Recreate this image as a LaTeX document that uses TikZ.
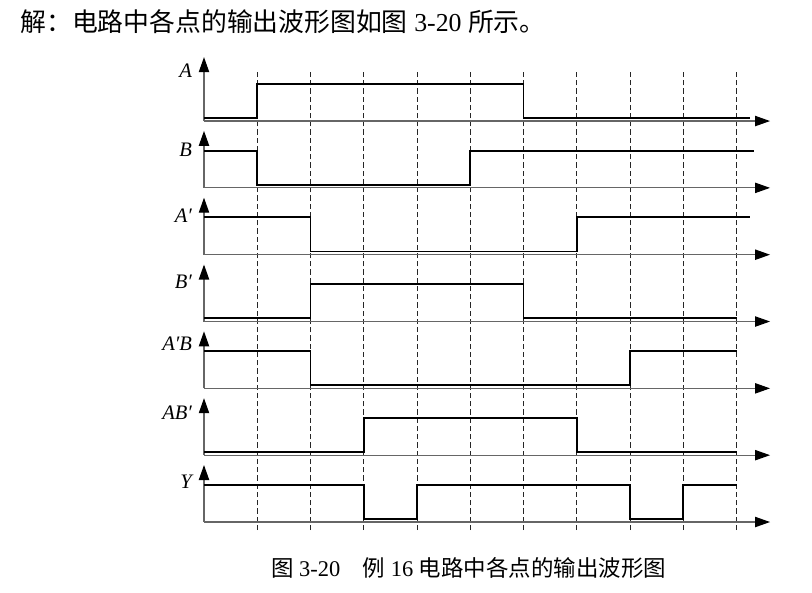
\documentclass[tikz,border=0pt]{standalone}
\usepackage{fontspec}
\setmainfont{Liberation Serif}
\newfontfamily\cjk{Noto Sans CJK SC}
\usetikzlibrary{arrows.meta}

\tikzset{
	axis/.style={draw=black!60, line width=0.6pt, -{Triangle[length=8pt,width=5.5pt,color=black]}},
	wave/.style={line width=1pt},
	grid line/.style={dash pattern=on 2.8pt off 1.6pt, line width=0.5pt, black!85},
	sig/.style={anchor=east, inner sep=0pt, font=\fontsize{11}{13}\selectfont\itshape},
}

\begin{document}
\begin{tikzpicture}
		\useasboundingbox (-3.831,-1.333) rectangle (11.418,9.803);
		
		\coordinate (rA) at (0,7.530);
		\coordinate (rB) at (0,6.275);
		\coordinate (rAn) at (0,5.020);
		\coordinate (rBn) at (0,3.765);
		\coordinate (rAnB) at (0,2.510);
		\coordinate (rABn) at (0,1.255);
		\coordinate (rY) at (0,0);
		
		\foreach \t in {1,...,10}
			\draw[grid line] (\t,-0.15) -- (\t,8.47);
		
		\foreach \r in {rA,rB,rAn,rBn,rAnB,rABn,rY}
			\draw[axis] (\r) -- ++(10.63,0);
		\draw[axis] (rA) -- ++(0,1.20);
		\foreach \r in {rB,rAn,rBn,rAnB,rABn,rY}
			\draw[axis] (\r) -- ++(0,1.07);
		
		\node[sig] (lA) at (-0.22,8.47) {A};
		\node[sig] (lB) at (-0.22,6.99) {B};
		\node[sig] (lAn) at (-0.22,5.76) {A′};
		\node[sig] (lBn) at (-0.22,4.52) {B′};
		\node[sig] (lAnB) at (-0.22,3.34) {A′B};
		\node[sig] (lABn) at (-0.22,2.06) {AB′};
		\node[sig] (lY) at (-0.22,0.75) {Y};
		
		\draw[wave] (rA) ++(0,0.06) -- ++(1,0) -- ++(0,0.64) -- ++(5,0) -- ++(0,-0.64) -- ++(4.25,0);
		\draw[wave] (rB) ++(0,0.70) -- ++(1,0) -- ++(0,-0.64) -- ++(4,0) -- ++(0,0.64) -- ++(5.33,0);
		\draw[wave] (rAn) ++(0,0.70) -- ++(2,0) -- ++(0,-0.64) -- ++(5,0) -- ++(0,0.64) -- ++(3.25,0);
		\draw[wave] (rBn) ++(0,0.06) -- ++(2,0) -- ++(0,0.64) -- ++(4,0) -- ++(0,-0.64) -- ++(4,0);
		\draw[wave] (rAnB) ++(0,0.70) -- ++(2,0) -- ++(0,-0.64) -- ++(6,0) -- ++(0,0.64) -- ++(2,0);
		\draw[wave] (rABn) ++(0,0.06) -- ++(3,0) -- ++(0,0.64) -- ++(4,0) -- ++(0,-0.64) -- ++(3,0);
		\draw[wave] (rY) ++(0,0.70) -- ++(3,0) -- ++(0,-0.64) -- ++(1,0) -- ++(0,0.64) -- ++(4,0) -- ++(0,-0.64) -- ++(1,0) -- ++(0,0.64) -- ++(1,0);
		
		\node[anchor=west, inner sep=0pt, font=\fontsize{13.8}{16}\selectfont] (title) at (-3.455,9.39) {{\cjk 解：电路中各点的输出波形图如图} 3-20 {\cjk 所示。}};
		\node[inner sep=0pt, font=\fontsize{12}{14}\selectfont] (cap) at (4.967,-0.864) {{\cjk 图} 3-20{\cjk 　例} 16 {\cjk 电路中各点的输出波形图}};
	\end{tikzpicture}
\end{document}
